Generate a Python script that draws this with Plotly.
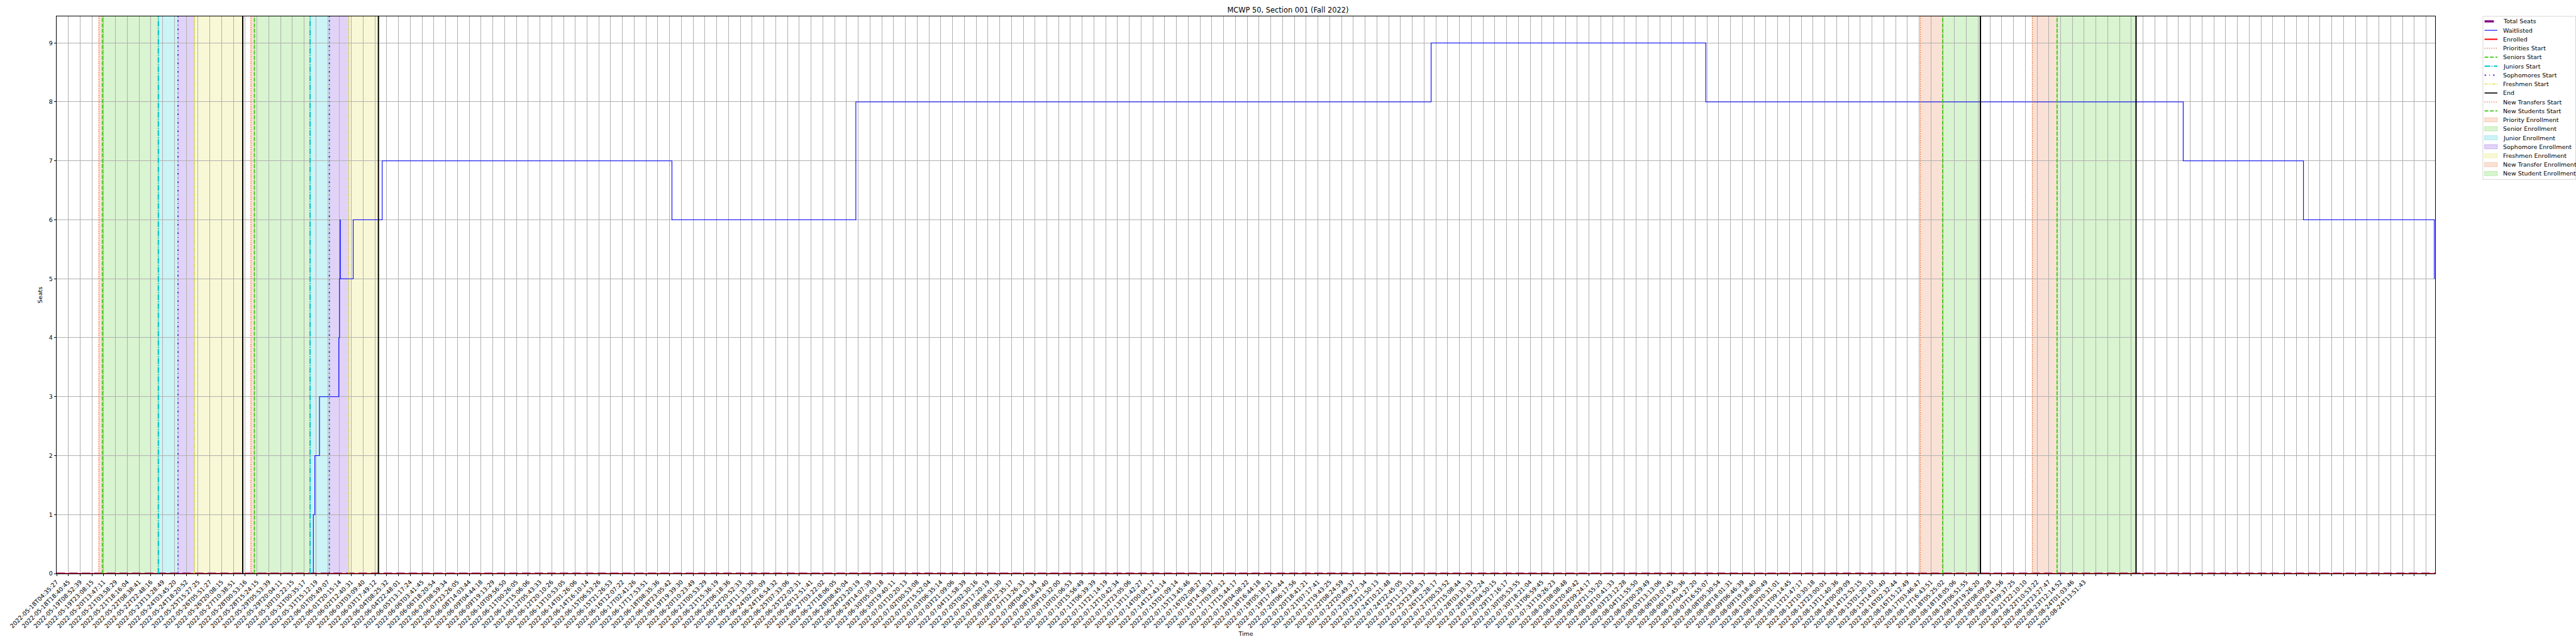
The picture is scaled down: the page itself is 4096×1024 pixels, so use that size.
import plotly.graph_objects as go

# ---------------- data ----------------
tick_labels = [
    "2022-05-18T04:35:27", "2022-05-18T18:40:45", "2022-05-19T08:52:39", "2022-05-19T23:08:15",
    "2022-05-20T13:47:11", "2022-05-21T03:58:29", "2022-05-21T18:16:04", "2022-05-22T08:38:41",
    "2022-05-22T22:48:16", "2022-05-23T13:28:49", "2022-05-24T03:45:20", "2022-05-24T18:20:52",
    "2022-05-25T15:27:25", "2022-05-26T05:51:27", "2022-05-26T20:08:15", "2022-05-27T10:38:51",
    "2022-05-28T00:53:16", "2022-05-28T15:24:15", "2022-05-29T05:53:39", "2022-05-29T20:04:11",
    "2022-05-30T10:22:15", "2022-05-31T00:35:17", "2022-05-31T15:12:19", "2022-06-01T05:49:07",
    "2022-06-01T20:15:14", "2022-06-02T12:40:31", "2022-06-03T03:09:40", "2022-06-03T17:49:12",
    "2022-06-04T08:25:32", "2022-06-04T22:48:01", "2022-06-05T13:17:24", "2022-06-06T03:41:45",
    "2022-06-06T18:20:54", "2022-06-07T08:59:34", "2022-06-07T23:26:05", "2022-06-08T14:03:44",
    "2022-06-09T04:44:18", "2022-06-09T19:13:29", "2022-06-10T09:56:50", "2022-06-11T00:26:05",
    "2022-06-11T15:06:06", "2022-06-12T05:43:33", "2022-06-12T20:10:26", "2022-06-13T10:53:05",
    "2022-06-14T01:26:06", "2022-06-14T16:10:14", "2022-06-15T06:53:26", "2022-06-15T21:26:53",
    "2022-06-16T12:07:22", "2022-06-17T02:41:26", "2022-06-17T17:53:51", "2022-06-18T08:35:36",
    "2022-06-18T23:05:42", "2022-06-19T19:39:30", "2022-06-20T10:23:49", "2022-06-21T00:53:29",
    "2022-06-21T15:36:19", "2022-06-22T06:18:36", "2022-06-22T20:52:33", "2022-06-23T11:33:30",
    "2022-06-24T02:05:09", "2022-06-24T16:54:32", "2022-06-25T07:33:06", "2022-06-25T22:02:31",
    "2022-06-26T12:51:41", "2022-06-27T03:22:02", "2022-06-27T18:06:05", "2022-06-28T08:45:04",
    "2022-06-28T23:20:19", "2022-06-29T14:07:39", "2022-06-30T05:03:18", "2022-06-30T19:40:11",
    "2022-07-01T10:20:13", "2022-07-02T00:53:08", "2022-07-02T15:52:04", "2022-07-03T06:35:14",
    "2022-07-03T21:09:06", "2022-07-04T11:58:39", "2022-07-05T02:30:16", "2022-07-05T17:20:19",
    "2022-07-06T08:01:30", "2022-07-06T22:35:17", "2022-07-07T13:26:33", "2022-07-08T04:03:34",
    "2022-07-08T18:43:40", "2022-07-09T10:32:00", "2022-07-10T01:06:53", "2022-07-10T15:56:49",
    "2022-07-11T06:39:39", "2022-07-11T21:14:19", "2022-07-12T10:42:34", "2022-07-12T23:05:06",
    "2022-07-13T11:42:27", "2022-07-14T00:04:17", "2022-07-14T12:43:14", "2022-07-15T01:09:14",
    "2022-07-15T13:45:46", "2022-07-16T02:08:27", "2022-07-16T14:38:37", "2022-07-17T03:09:12",
    "2022-07-17T15:44:17", "2022-07-18T04:08:22", "2022-07-18T16:44:18", "2022-07-19T05:18:21",
    "2022-07-19T17:40:44", "2022-07-20T06:17:56", "2022-07-20T18:41:21", "2022-07-21T07:17:41",
    "2022-07-21T19:43:25", "2022-07-22T08:24:59", "2022-07-22T20:49:37", "2022-07-23T09:27:34",
    "2022-07-23T21:50:13", "2022-07-24T10:21:48", "2022-07-24T22:45:05", "2022-07-25T11:23:10",
    "2022-07-25T23:48:37", "2022-07-26T12:28:17", "2022-07-27T00:53:52", "2022-07-27T15:08:44",
    "2022-07-28T03:33:33", "2022-07-28T16:12:24", "2022-07-29T04:50:15", "2022-07-29T17:16:17",
    "2022-07-30T05:53:55", "2022-07-30T18:21:04", "2022-07-31T06:59:45", "2022-07-31T19:26:23",
    "2022-08-01T08:08:48", "2022-08-01T20:40:42", "2022-08-02T09:24:17", "2022-08-02T21:55:20",
    "2022-08-03T10:41:33", "2022-08-03T23:12:28", "2022-08-04T11:55:50", "2022-08-05T00:29:49",
    "2022-08-05T13:13:06", "2022-08-06T03:07:45", "2022-08-06T15:45:36", "2022-08-07T04:27:20",
    "2022-08-07T16:55:07", "2022-08-08T05:30:54", "2022-08-08T18:01:31", "2022-08-09T06:46:39",
    "2022-08-09T19:18:40", "2022-08-10T08:00:49", "2022-08-10T20:31:01", "2022-08-11T09:14:45",
    "2022-08-11T21:47:17", "2022-08-12T10:30:18", "2022-08-12T23:00:01", "2022-08-13T11:40:36",
    "2022-08-14T00:09:09", "2022-08-14T12:52:15", "2022-08-15T01:20:10", "2022-08-15T14:01:40",
    "2022-08-16T02:32:44", "2022-08-16T15:12:49", "2022-08-17T03:46:47", "2022-08-17T16:43:51",
    "2022-08-18T05:25:02", "2022-08-18T18:05:06", "2022-08-19T06:51:55", "2022-08-19T19:26:20",
    "2022-08-20T08:09:28", "2022-08-20T20:41:56", "2022-08-21T09:37:25", "2022-08-21T22:10:10",
    "2022-08-22T10:53:22", "2022-08-22T23:27:47", "2022-08-23T12:14:52", "2022-08-24T01:03:46",
    "2022-08-24T13:51:43",
]
# number of tick slots along the axis (labels beyond those read above were not legible)
n_tick_slots = 202

# x positions are in units of tick slots (0 = first tick label)
x_last = 201.77

wait_x = [0, 21.78, 21.91, 22.30, 23.94, 24.00, 24.05, 24.07, 25.16, 27.62,
          52.2, 67.8, 116.6, 139.9, 180.4, 190.6, 201.7]
wait_y = [0, 1, 2, 3, 4, 5, 6, 5, 6, 7, 6, 8, 9, 8, 7, 6, 5]

total_seats_x = [0, x_last]
total_seats_y = [0, 0]
enrolled_x = [0, x_last]
enrolled_y = [0, 0]

priorities_start = [3.59, 16.48]
seniors_start = [3.88, 16.78]
juniors_start = [8.63, 21.50]
sophomores_start = [10.30, 23.14]
freshmen_start = [11.69, 24.79]
pass_end = [15.79, 27.30]
new_transfers_start = [158.1, 167.6]
new_students_start = [160.0, 169.7]
new_end = [163.2, 176.4]

y_top = 9.45

legend_names = ["Total Seats", "Waitlisted", "Enrolled", "Priorities Start", "Seniors Start",
                "Juniors Start", "Sophomores Start", "Freshmen Start", "End",
                "New Transfers Start", "New Students Start", "Priority Enrollment",
                "Senior Enrollment", "Junior Enrollment", "Sophomore Enrollment",
                "Freshmen Enrollment", "New Transfer Enrollment", "New Student Enrollment"]

# ---------------- style ----------------
W, H = 4096, 1024
L_PX, R_PX, T_PX, B_PX = 89.6, 3872.0, 25.5, 915.5
FONT = "DejaVu Sans"
C_ORANGE = "#E8692D"
C_GREEN = "#3CC814"
C_CYAN = "#00C2CC"
C_PURP = "#6A25D9"
C_YEL = "#DCDC30"


def rgba(hexc, a):
    h = hexc.lstrip("#")
    return "rgba(%d,%d,%d,%.2f)" % (int(h[0:2], 16), int(h[2:4], 16), int(h[4:6], 16), a)


def px2x(p):
    return (p - L_PX) / (R_PX - L_PX)


def py2y(p):
    return (B_PX - p) / (B_PX - T_PX)


styles = {
    "prio": dict(color=C_ORANGE, width=1.4, dash="1.4px,2.2px"),
    "sen": dict(color=C_GREEN, width=1.8, dash="6px,2.6px"),
    "jun": dict(color=C_CYAN, width=2.0, dash="9px,2px,1.5px,2px"),
    "soph": dict(color=C_PURP, width=2.0, dash="2.5px,5px,1px,5px"),
    "fresh": dict(color=C_YEL, width=1.4, dash="5px,1.5px,1.5px,1.5px,1.5px,1.5px"),
    "end": dict(color="black", width=2.0),
}

fig = go.Figure()
shapes = []

# shaded spans
def span(x0, x1, color):
    shapes.append(dict(type="rect", xref="x", yref="y", x0=x0, x1=x1, y0=0, y1=y_top,
                       fillcolor=rgba(color, 0.2), line=dict(color=rgba(color, 0.25), width=0.7),
                       layer="below"))

for i in range(len(priorities_start)):
    span(priorities_start[i], seniors_start[i], C_ORANGE)
    span(seniors_start[i], juniors_start[i], C_GREEN)
    span(juniors_start[i], sophomores_start[i], C_CYAN)
    span(sophomores_start[i], freshmen_start[i], C_PURP)
    span(freshmen_start[i], pass_end[i], C_YEL)
for i in range(len(new_transfers_start)):
    span(new_transfers_start[i], new_students_start[i], C_ORANGE)
    span(new_students_start[i], new_end[i], C_GREEN)

# data traces
fig.add_trace(go.Scatter(x=total_seats_x, y=total_seats_y, mode="lines",
                         line=dict(color="#800080", width=3, dash="13.5px,6.5px"),
                         showlegend=False, cliponaxis=False))
fig.add_trace(go.Scatter(x=wait_x, y=wait_y, mode="lines", line_shape="hv",
                         line=dict(color="#0000FF", width=1.1), showlegend=False))
fig.add_trace(go.Scatter(x=enrolled_x, y=enrolled_y, mode="lines",
                         line=dict(color="#FF0000", width=1.6), showlegend=False, cliponaxis=False))

# vertical lines
def vline(x, key):
    shapes.append(dict(type="line", xref="x", yref="y", x0=x, x1=x, y0=0, y1=y_top,
                       line=styles[key], layer="above"))

for i in range(len(priorities_start)):
    vline(priorities_start[i], "prio")
    vline(seniors_start[i], "sen")
    vline(juniors_start[i], "jun")
    vline(sophomores_start[i], "soph")
    vline(freshmen_start[i], "fresh")
    vline(pass_end[i], "end")
for i in range(len(new_transfers_start)):
    vline(new_transfers_start[i], "prio")
    vline(new_students_start[i], "sen")
    vline(new_end[i], "end")

# ---------------- manual legend ----------------
annotations = []
LX0, LX1, LT, LB = 3948.0, 4095.5, 25.5, 286.0
shapes.append(dict(type="rect", xref="paper", yref="paper",
                   x0=px2x(LX0), x1=px2x(LX1), y0=py2y(LB), y1=py2y(LT),
                   fillcolor="rgba(255,255,255,0.8)", line=dict(color="#CCCCCC", width=0.8),
                   layer="above"))
hx0, hx1, tx = 3950.6, 3971.0, 3978.0
row0, drow = 33.5, 14.3
line_handles = [
    dict(color="#800080", width=3.4, dash="14.8px,6px"),
    dict(color="#0000FF", width=1.1),
    dict(color="#FF0000", width=2.0),
    styles["prio"], styles["sen"], styles["jun"], styles["soph"], styles["fresh"],
    dict(color="black", width=1.6),
    styles["prio"], styles["sen"],
]
fill_handles = [C_ORANGE, C_GREEN, C_CYAN, C_PURP, C_YEL, C_ORANGE, C_GREEN]
for i, name in enumerate(legend_names):
    yc = row0 + drow * i
    if i < len(line_handles):
        shapes.append(dict(type="line", xref="paper", yref="paper",
                           x0=px2x(hx0), x1=px2x(hx1), y0=py2y(yc), y1=py2y(yc),
                           line=line_handles[i], layer="above"))
    else:
        c = fill_handles[i - len(line_handles)]
        shapes.append(dict(type="rect", xref="paper", yref="paper",
                           x0=px2x(hx0), x1=px2x(hx1), y0=py2y(yc + 3.4), y1=py2y(yc - 3.4),
                           fillcolor=rgba(c, 0.2), line=dict(color=rgba(c, 0.3), width=0.8),
                           layer="above"))
    annotations.append(dict(xref="paper", yref="paper", x=px2x(tx), y=py2y(yc),
                            text=name, showarrow=False, xanchor="left", yanchor="middle",
                            font=dict(family=FONT, size=9.5, color="black")))

tick_vals = list(range(n_tick_slots))
tick_text = tick_labels + [""] * (n_tick_slots - len(tick_labels))

fig.update_layout(
    width=W, height=H,
    margin=dict(l=L_PX, r=W - R_PX, t=T_PX, b=H - B_PX, pad=0),
    paper_bgcolor="white", plot_bgcolor="white",
    showlegend=False,
    title=dict(text="MCWP 50, Section 001 (Fall 2022)", x=px2x((L_PX + R_PX) / 2), xanchor="center",
               y=1 - 15.7 / H, yanchor="middle", font=dict(family=FONT, size=11.4, color="black")),
    font=dict(family=FONT, size=9.5, color="black"),
    shapes=shapes,
    annotations=annotations,
)
fig.update_xaxes(
    range=[0, x_last], tickmode="array",
    tickvals=tick_vals, ticktext=tick_text, tickangle=-45,
    showgrid=True, gridcolor="#B0B0B0", gridwidth=0.7, zeroline=False,
    ticks="outside", ticklen=3.3, tickwidth=0.7, tickcolor="black",
    showline=True, linecolor="black", linewidth=1.0, mirror=True,
    tickfont=dict(family=FONT, size=9.5, color="black"),
    title=dict(text="Time", font=dict(family=FONT, size=9.5, color="black"), standoff=4),
)
fig.update_yaxes(
    range=[0, y_top], tickmode="linear", tick0=0, dtick=1,
    showgrid=True, gridcolor="#B0B0B0", gridwidth=0.7, zeroline=False,
    ticks="outside", ticklen=3.3, tickwidth=0.7, tickcolor="black",
    showline=True, linecolor="black", linewidth=1.0, mirror=True,
    tickfont=dict(family=FONT, size=9.5, color="black"),
    title=dict(text="Seats", font=dict(family=FONT, size=9.5, color="black"), standoff=8),
)

fig.write_html("out.html", config={"displayModeBar": False},
               post_script="document.body.style.margin='0px';")
